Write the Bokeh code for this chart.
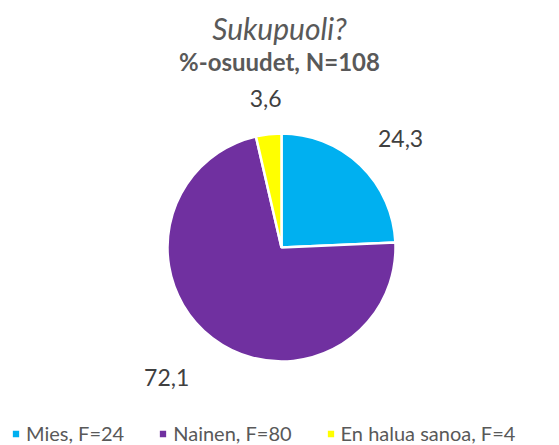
import math
from bokeh.plotting import figure
from bokeh.models import Range1d, ColumnDataSource, Legend, LegendItem
from bokeh.core.properties import value
from bokeh.embed import file_html
from bokeh.resources import INLINE

# ---- data ----
categories = ["Mies", "Nainen", "En halua sanoa"]
counts = [24, 80, 4]
percents = [24.3, 72.1, 3.6]
colors = ["#00B0F0", "#7030A0", "#FFFF00"]
title_text = "Sukupuoli?"
subtitle_text = "%-osuudet, N=108"

W, H = 559, 445
FONT = value("Lato")

p = figure(width=W, height=H, x_range=Range1d(0, W), y_range=Range1d(0, H),
           x_axis_type=None, y_axis_type=None, toolbar_location=None,
           output_backend="svg", min_border=0, outline_line_color=None)
p.grid.visible = False

def px(x):
    return x

def py(y):
    return H - y

cx, cy, R = px(281), py(247), 114

total = sum(percents)
starts, ends, mids = [], [], []
cum = 0.0
for v in percents:
    a0 = math.pi / 2 - 2 * math.pi * cum / total
    cum += v
    a1 = math.pi / 2 - 2 * math.pi * cum / total
    starts.append(a0)
    ends.append(a1)
    mids.append((a0 + a1) / 2)

renderers = []
for i in range(len(categories)):
    r = p.wedge(x=cx, y=cy, radius=R, start_angle=starts[i], end_angle=ends[i],
                direction="clock", fill_color=colors[i], line_color="white",
                line_width=2.5)
    renderers.append(r)

# data labels
lx, ly, lt, la, lb = [], [], [], [], []
for i, m in enumerate(mids):
    c, s = math.cos(m), math.sin(m)
    d = 27 + 16 * max(0.0, -s) - 3 * max(0.0, c * s)
    lx.append(cx + (R + d) * c)
    ly.append(cy + (R + d) * s)
    lt.append(f"{percents[i]:.1f}".replace(".", ","))
    la.append("left" if c > 0.3 else ("right" if c < -0.3 else "center"))
    lb.append("bottom" if s > 0.3 else ("top" if s < -0.3 else "middle"))
src = ColumnDataSource(dict(x=lx, y=ly, t=lt, a=la, b=lb))
p.text(x="x", y="y", text="t", text_align="a", text_baseline="b", source=src,
       text_font=FONT, text_font_size="23px", text_color="#404040")

# titles
p.text(x=[px(279)], y=[py(27)], text=[title_text], text_align="center",
       text_baseline="middle", text_font=FONT, text_font_size="30px",
       text_font_style="italic", text_color="#595959")
p.text(x=[px(279)], y=[py(61)], text=[subtitle_text], text_align="center",
       text_baseline="middle", text_font=FONT, text_font_size="24px",
       text_font_style="bold", text_color="#595959")

# legend
items = [LegendItem(label=f"{categories[i]}, F={counts[i]}", renderers=[renderers[i]])
         for i in range(len(categories))]
legend = Legend(items=items, orientation="horizontal", location=(10, 0),
                border_line_color=None, background_fill_alpha=0,
                label_text_font="Lato", label_text_font_size="20px",
                label_text_color="#595959", glyph_width=11, glyph_height=11,
                label_standoff=5, spacing=33, padding=0, margin=0)
p.add_layout(legend)

open("out.html", "w").write(file_html(p, INLINE))
